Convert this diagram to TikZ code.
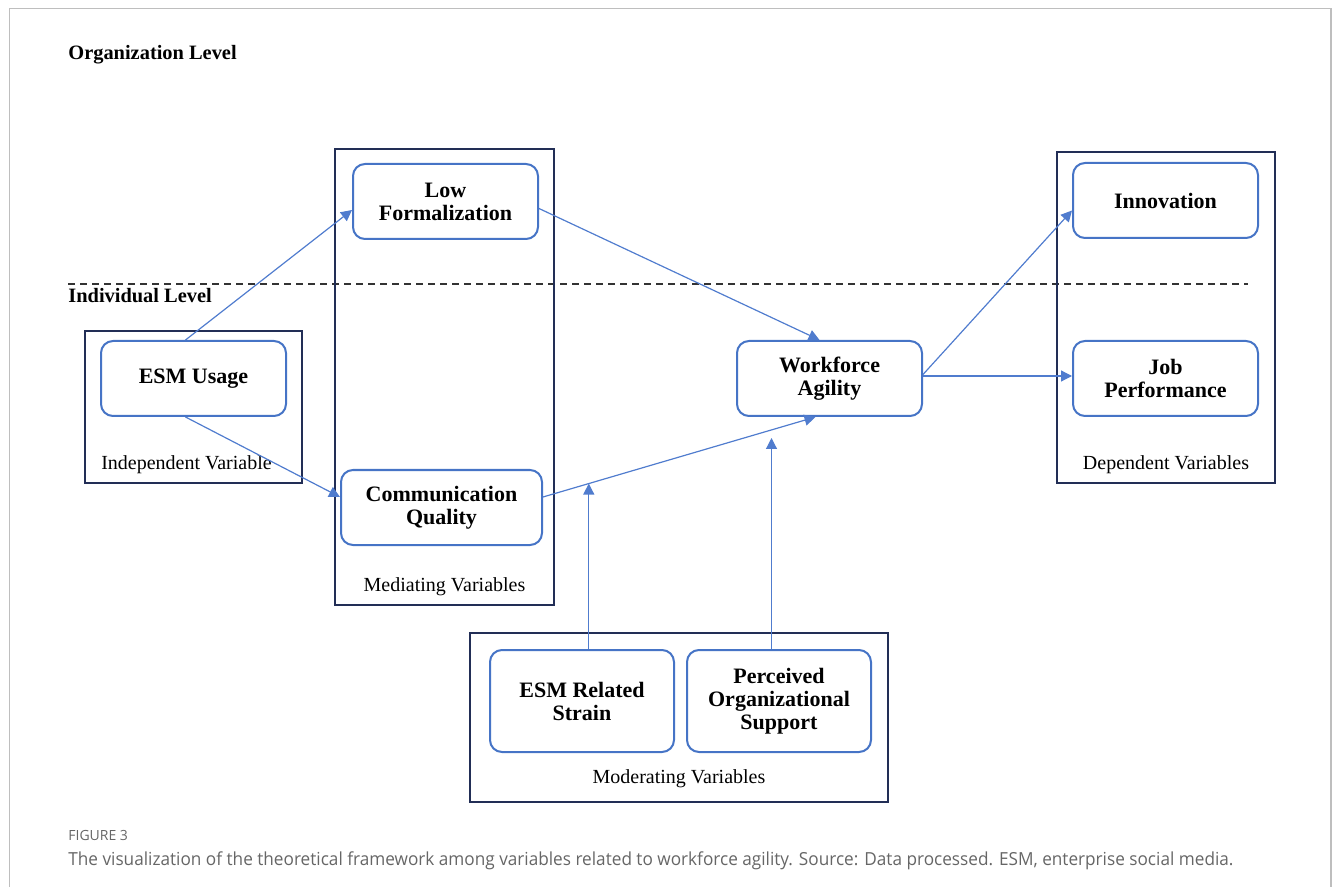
\documentclass[tikz,border=0pt]{standalone}
\usepackage{fontspec}
\setmainfont{Liberation Serif}
\newfontfamily\capfont{Open Sans}
\usetikzlibrary{arrows.meta,positioning,calc}
\definecolor{boxblue}{RGB}{70,116,198}
\definecolor{linkblue}{RGB}{80,124,206}
\definecolor{groupnavy}{RGB}{34,46,86}
\definecolor{framegray}{RGB}{190,190,190}

\begin{document}
\begin{tikzpicture}[
    x=0.5pt, y=-0.5pt,
    >={Triangle[length=5.5pt,width=5.5pt]},
    var/.style={draw=boxblue, line width=1pt, rounded corners=6pt, fill=white,
        minimum width=92.5pt, minimum height=37.5pt, inner sep=0pt, align=center,
        font=\bfseries\fontsize{11}{11.5}\selectfont},
    group/.style={draw=groupnavy, line width=1.2pt, inner sep=0pt},
    link/.style={->, draw=linkblue, line width=0.6pt},
    tag/.style={anchor=base, font=\fontsize{10}{12}\selectfont},
    level/.style={anchor=base west, inner sep=0pt, font=\bfseries\fontsize{10.2}{12}\selectfont}
]
    \useasboundingbox (0,0) rectangle (1333,887);
    \draw[framegray, line width=0.8pt] (9.5,887) -- (9.5,8.5) -- (1331,8.5) -- (1331,887);

    % Levels
    \node[level] (orglvl) at (68,60) {Organization Level};
    \draw[black!80, line width=0.9pt, dash pattern=on 3.5pt off 2.5pt] (68,284) -- (1248,284);
    \node[level] (indlvl) at (68,303) {Individual Level};

    % Groups
    \node[group, minimum width=108.5pt, minimum height=76pt] (indep) at (193.5,407) {};
    \node[tag] (indeplbl) at (186.5,470) {Independent Variable};
    \node[group, minimum width=109.5pt, minimum height=228pt] (mediat) at (444.5,377) {};
    \node[tag] (mediatlbl) at (444.5,591) {Mediating Variables};
    \node[group, minimum width=109pt, minimum height=165.5pt] (depend) at (1166,317.5) {};
    \node[tag] (dependlbl) at (1166,470) {Dependent Variables};
    \node[group, minimum width=209pt, minimum height=84.5pt] (moder) at (679,717.5) {};
    \node[tag] (moderlbl) at (679,783) {Moderating Variables};

    % Variables
    \node[var] (usage) at (193.5,378.5) {ESM Usage};
    \node[var] (lowform) at (445.5,201.5) {Low\\Formalization};
    \node[var, minimum width=100.5pt] (commq) at (441.5,507.5) {Communication\\Quality};
    \node[var] (agility) at (829.5,378.5) {Workforce\\Agility};
    \node[var] (innov) at (1165.5,200.5) {Innovation};
    \node[var] (jobperf) at (1165.5,378.5) {Job\\Performance};
    \node[var, minimum width=92pt, minimum height=51pt] (strain) at (582,701) {ESM Related\\Strain};
    \node[var, minimum width=92pt, minimum height=51pt] (support) at (779,701) {Perceived\\Organizational\\Support};

    % Paths
    \draw[link] ($(usage.north)+(-8,0)$) -- ($(lowform.west)+(0,8.5)$);
    \draw[link] ($(usage.south)+(-8,0)$) -- ($(commq.west)+(0,-10.5)$);
    \draw[link] ($(lowform.east)+(0,7)$) -- ($(agility.north)+(-10,0)$);
    \draw[link] ($(commq.east)+(0,-10.5)$) -- ($(agility.south)+(-14,0)$);
    \draw[link] ($(agility.east)+(0,-2.5)$) -- ($(jobperf.west)+(0,-2.5)$);
    \draw[link] ($(agility.east)+(0,-4)$) -- ($(innov.west)+(0,10)$);

    % Moderation
    \coordinate (mod1) at ($($(commq.east)+(0,-10.5)$)!0.168!($(agility.south)+(-14,0)$)$);
    \coordinate (mod2) at (771.5,438);
    \draw[link] (mod1 |- strain.north) -- (mod1);
    \draw[link] (mod2 |- support.north) -- (mod2);

    % Caption
    \node[anchor=base west, inner sep=0pt, font=\capfont\fontsize{7}{8}\selectfont, text=black!60] (fignum) at (68,840) {FIGURE 3};
    \node[anchor=base west, inner sep=0pt, font=\capfont\fontsize{9}{11}\selectfont, text=black!60] (caption) at (68,865) {\scalebox{0.955}[1]{The visualization of the theoretical framework among variables related to workforce agility. Source: Data processed. ESM, enterprise social media.}};
\end{tikzpicture}
\end{document}
